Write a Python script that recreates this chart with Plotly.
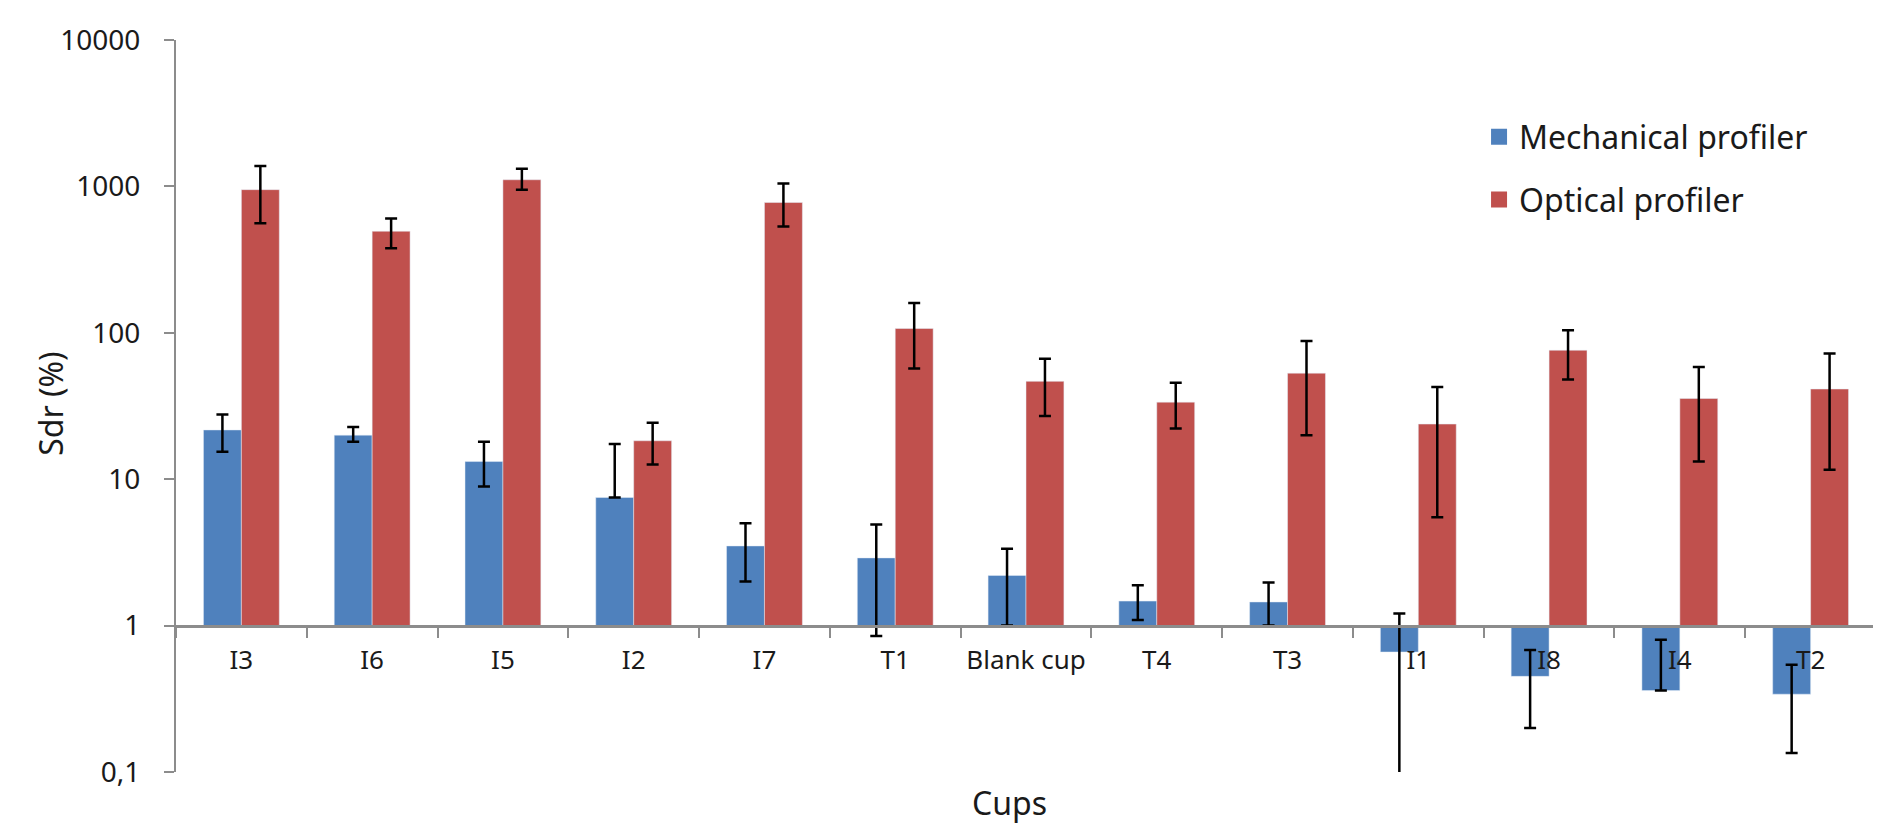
import plotly.graph_objects as go

cups = ["I3", "I6", "I5", "I2", "I7", "T1", "Blank cup", "T4", "T3", "I1", "I8", "I4", "T2"]

mech = [21.7, 20.0, 13.2, 7.5, 3.5, 2.9, 2.2, 1.47, 1.45, 0.66, 0.45, 0.36, 0.34]
mech_err_plus = [6.0, 2.7, 4.8, 9.9, 1.5, 2.0, 1.15, 0.42, 0.52, 0.55, 0.23, 0.44, 0.20]
mech_err_minus = [6.3, 2.0, 4.3, 0.0, 1.5, 2.05, 1.2, 0.38, 0.45, 0.70, 0.25, 0.0, 0.205]

opt = [950, 494, 1110, 18.3, 776, 107, 46.6, 33.6, 53, 23.8, 76, 35.6, 41.3]
opt_err_plus = [430, 110, 210, 6.0, 270, 53, 20, 12, 35, 18.8, 28, 22.8, 30.8]
opt_err_minus = [390, 116, 160, 5.7, 243, 50, 19.6, 11.4, 33, 18.3, 28, 22.4, 29.7]

axis_base = 1
blue = "#4F81BD"
red = "#C0504D"
font_family = "Noto Sans"
text_color = "#1a1a1a"

fig = go.Figure()

fig.add_trace(go.Bar(
    x=cups, y=[v - axis_base for v in mech], base=axis_base,
    name="Mechanical profiler", marker=dict(color=blue), showlegend=False,
    error_y=dict(type="data", symmetric=False, array=mech_err_plus, arrayminus=mech_err_minus,
                 color="black", thickness=2.5, width=6),
))
fig.add_trace(go.Bar(
    x=cups, y=[v - axis_base for v in opt], base=axis_base,
    name="Optical profiler", marker=dict(color=red), showlegend=False,
    error_y=dict(type="data", symmetric=False, array=opt_err_plus, arrayminus=opt_err_minus,
                 color="black", thickness=2.5, width=6),
))

# legend entries
for nm, col in [("Mechanical profiler", blue), ("Optical profiler", red)]:
    fig.add_trace(go.Scatter(
        x=[None], y=[None], mode="markers", name=nm, legendgroup=nm,
        marker=dict(symbol="square", size=20, color=col),
    ))

fig.update_layout(
    width=1881, height=826,
    margin=dict(l=168, r=13, t=27, b=62),
    paper_bgcolor="white", plot_bgcolor="white",
    barmode="group", bargap=0.42, bargroupgap=0,
    font=dict(family=font_family, color=text_color),
    showlegend=True,
    legend=dict(x=0.7665, y=0.905, xanchor="left", yanchor="top",
                font=dict(size=32, family=font_family, color=text_color),
                itemsizing="trace", tracegroupgap=18, bgcolor="rgba(0,0,0,0)"),
    xaxis=dict(
        type="category", anchor="free", position=0.2,
        showline=True, linecolor="#8c8c8c", linewidth=3,
        ticks="outside", tickson="boundaries", ticklen=10, tickwidth=2, tickcolor="#8c8c8c",
        tickfont=dict(size=26, family=font_family, color=text_color),
        ticklabelstandoff=10,
        showgrid=False, zeroline=False,
    ),
    yaxis=dict(
        type="log", range=[-1, 4],
        tickvals=[0.1, 1, 10, 100, 1000, 10000],
        ticktext=["0,1", "1", "10", "100", "1000", "10000"],
        showline=True, linecolor="#8c8c8c", linewidth=2,
        ticks="outside", ticklen=10, tickwidth=2, tickcolor="#8c8c8c",
        tickfont=dict(size=28, family=font_family, color=text_color),
        ticklabelstandoff=18,
        showgrid=False, zeroline=False,
    ),
    annotations=[
        dict(text="Sdr (%)", xref="paper", yref="paper", x=-0.0735, y=0.503,
             textangle=-90, showarrow=False, xanchor="center", yanchor="middle",
             font=dict(size=32, family=font_family, color=text_color)),
        dict(text="Cups", xref="paper", yref="paper", x=0.49, y=-0.042,
             showarrow=False, xanchor="center", yanchor="middle",
             font=dict(size=32, family=font_family, color=text_color)),
    ],
)

fig.write_html("out.html")
